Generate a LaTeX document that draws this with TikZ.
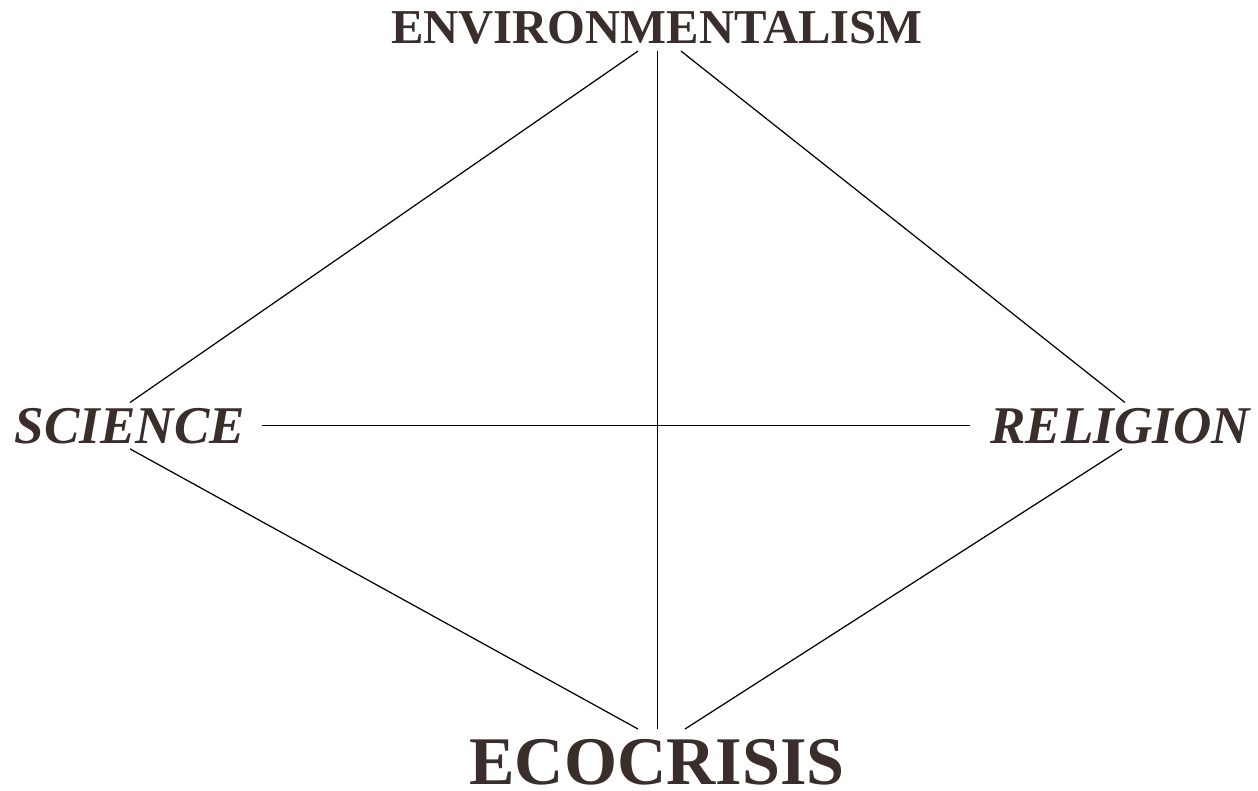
\documentclass[tikz,border=0pt]{standalone}
\usepackage{fontspec}
\setmainfont{Liberation Serif}
\definecolor{inkbrown}{RGB}{58,46,44}

\begin{document}
\begin{tikzpicture}[x=0.02cm, y=-0.02cm,
    pole/.style = {inner sep = 0.1cm, anchor = base, text = inkbrown, font = \bfseries\fontsize{27.7}{30}\selectfont},
    side/.style = {pole, font = \bfseries\itshape\fontsize{30.2}{32}\selectfont},
    link/.style = {line width = 0.7pt}]
%\draw [help lines] (0,0) grid (1258,791);
    \useasboundingbox (0,0) rectangle (1258,791);
    \node [pole] (env) at (657,43) {ENVIRONMENTALISM};
    \node [side] (sci) at (130,443) {SCIENCE};
    \node [side] (rel) at (1120,443) {RELIGION};
    \node [pole, inner sep = 0.03cm, font = \bfseries\fontsize{38.8}{40}\selectfont] (eco) at (657,784) {ECOCRISIS};
    \draw [link] ([xshift=-0.38cm, yshift=-0.04cm]env.south) -- (sci.north);
    \draw [link] ([xshift=0.48cm, yshift=-0.04cm]env.south) -- ([xshift=0.1cm]rel.north);
    \draw [link] ([xshift=0.01cm, yshift=-0.04cm]env.south) -- ([xshift=0.01cm, yshift=0.16cm]eco.north);
    \draw [link] ([xshift=0.24cm]sci.east) -- ([xshift=-0.3cm]rel.west);
    \draw [link] (sci.south) -- ([xshift=-0.38cm, yshift=0.16cm]eco.north);
    \draw [link] ([xshift=0.04cm]rel.south) -- ([xshift=0.56cm, yshift=0.16cm]eco.north);
\end{tikzpicture}
\end{document}
